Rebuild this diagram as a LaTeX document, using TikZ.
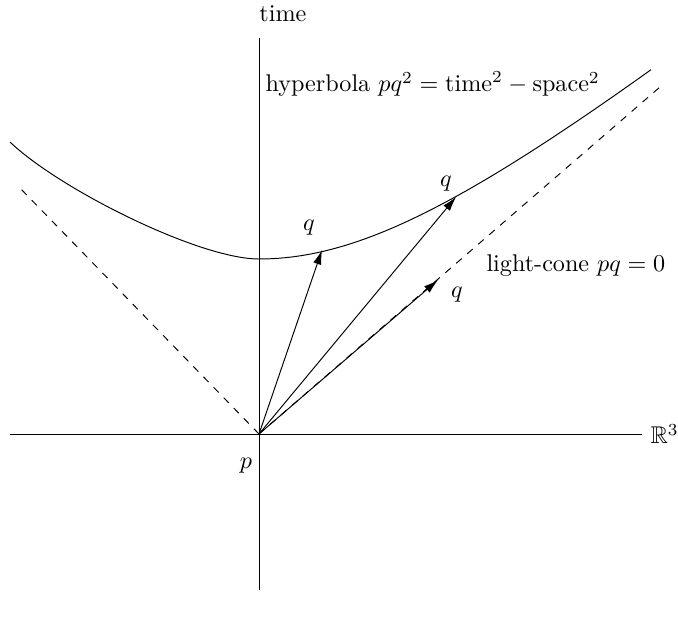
\documentclass[tikz,border=0pt]{standalone}
\usepackage{amsmath,amssymb}
\usepackage{tikz}
\usetikzlibrary{arrows.meta,calc}

\begin{document}
\begin{tikzpicture}[x=1.455cm,y=1.455cm,
		vec/.style={-{Latex[length=6pt,width=3.5pt]}},
		cone/.style={dashed},
		axis/.style={}]
		\useasboundingbox (-2.59,-1.84) rectangle (4.19,4.34);

		% axes
		\coordinate (p) at (0,0);
		\coordinate (xl) at (-2.49,0);
		\coordinate (xr) at (3.83,0);
		\coordinate (yb) at (0,-1.56);
		\coordinate (yt) at (0,3.96);
		\draw[axis] (xl) -- (xr);
		\draw[axis] (yb) -- (yt);
		\node[anchor=west] (r3) at (xr) {$\mathbb{R}^3$};
		\node[anchor=base west, inner sep=0pt] (time) at (0,4.12) {time};
		\node (plabel) at (-0.13,-0.32) {$p$};

		% light-cone
		\coordinate (cl) at (-2.41,2.48);
		\coordinate (cr) at (4.01,3.47);
		\draw[cone] (p) -- (cl);
		\draw[cone] (p) -- (cr);

		% hyperbola
		\coordinate (hl) at (-2.49,2.92);
		\coordinate (hm) at (0,1.75);
		\draw (hl) .. controls (-2.0,2.45) and (-0.6,1.75) .. (hm);
		\draw[domain=0:3.92, samples=60] plot (\x,{sqrt(1.75*1.75+(0.815*\x)*(0.815*\x))});

		% vectors
		\coordinate (q1) at (0.63,1.84);
		\coordinate (q2) at (1.97,2.37);
		\coordinate (q3) at (1.79,1.54);
		\draw[vec] (p) -- (q1);
		\draw[vec] (p) -- (q2);
		\draw[vec] (p) -- (q3);
		\node (q1label) at (0.50,2.06) {$q$};
		\node (q2label) at (1.87,2.50) {$q$};
		\node (q3label) at (1.98,1.39) {$q$};

		\node[anchor=west] (hyp) at (-0.02,3.50) {hyperbola $pq^2=\text{time}^2-\text{space}^2$};
		\node[anchor=west] (lc) at (2.19,1.68) {light-cone $pq=0$};
	\end{tikzpicture}
\end{document}
